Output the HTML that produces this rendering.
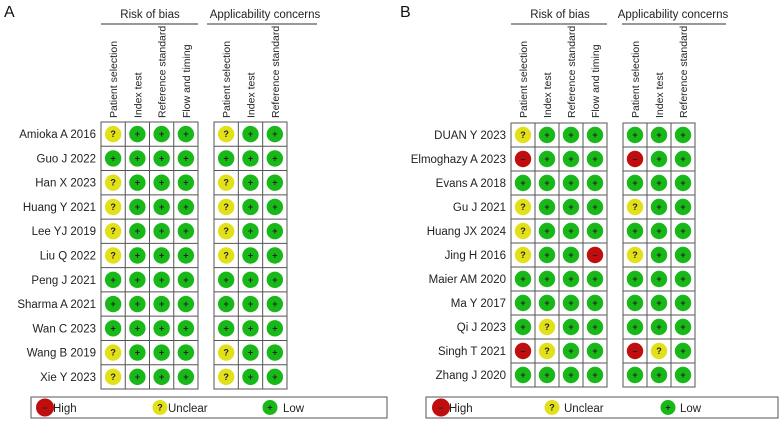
<!DOCTYPE html>
<html><head><meta charset="utf-8"><style>
body{margin:0;background:#fff;}
svg{display:block;font-family:"Liberation Sans",Arial,sans-serif;}
</style></head><body>
<svg id="chart" width="782" height="429" viewBox="0 0 782 429" xmlns="http://www.w3.org/2000/svg"></svg>
<script>
const domainsRisk = ["Patient selection","Index test","Reference standard","Flow and timing"];
const domainsApp = ["Patient selection","Index test","Reference standard"];
const studiesA = ["Amioka A 2016","Guo J 2022","Han X 2023","Huang Y 2021","Lee YJ 2019","Liu Q 2022","Peng J 2021","Sharma A 2021","Wan C 2023","Wang B 2019","Xie Y 2023"];
const riskA = [["U","L","L","L"],["L","L","L","L"],["U","L","L","L"],["U","L","L","L"],["U","L","L","L"],["U","L","L","L"],["L","L","L","L"],["L","L","L","L"],["L","L","L","L"],["U","L","L","L"],["U","L","L","L"]];
const appA = [["U","L","L"],["L","L","L"],["U","L","L"],["U","L","L"],["U","L","L"],["U","L","L"],["L","L","L"],["L","L","L"],["L","L","L"],["U","L","L"],["U","L","L"]];
const studiesB = ["DUAN Y 2023","Elmoghazy A 2023","Evans A 2018","Gu J 2021","Huang JX 2024","Jing H 2016","Maier AM 2020","Ma Y 2017","Qi J 2023","Singh T 2021","Zhang J 2020"];
const riskB = [["U","L","L","L"],["H","L","L","L"],["L","L","L","L"],["U","L","L","L"],["U","L","L","L"],["U","L","L","H"],["L","L","L","L"],["L","L","L","L"],["L","U","L","L"],["H","U","L","L"],["L","L","L","L"]];
const appB = [["L","L","L"],["H","L","L"],["L","L","L"],["U","L","L"],["L","L","L"],["U","L","L"],["L","L","L"],["L","L","L"],["L","L","L"],["H","U","L"],["L","L","L"]];

const NS="http://www.w3.org/2000/svg";
const svg=document.getElementById('chart');
function el(tag,attrs,parent){const e=document.createElementNS(NS,tag);for(const k in attrs)e.setAttribute(k,attrs[k]);(parent||svg).appendChild(e);return e;}
const COL={H:"#c00d0d",U:"#e2e018",L:"#18b818"};
const SYM={H:"\u2013",U:"?",L:"+"};
function mark(g,cx,cy,v,r){
  const c=el('circle',{cx:cx,cy:cy,r:r,fill:COL[v]},g);
  
  
  const t=el('text',{x:cx,y:cy+3,'text-anchor':'middle','font-size':9,'font-weight':'bold',fill:'#222'},g);
  t.textContent=SYM[v];
}
function panel(p){
  const g=el('g',{});
  
  
  const lt=el('text',{x:p.lx,y:17,'font-size':16,fill:'#111'},g);lt.textContent=p.label;
  const rowH=(p.bottom-p.top)/p.studies.length;
  const blocks=[{x0:p.x1,x1:p.x1e,dom:domainsRisk,vals:p.risk,title:"Risk of bias",lineA:p.x1,lineB:p.x1e,tc:p.t1},
                {x0:p.x2,x1:p.x2e,dom:domainsApp,vals:p.app,title:"Applicability concerns",lineA:p.l2a,lineB:p.l2b,tc:p.t2}];
  blocks.forEach((b,bi)=>{
    const tt=el('text',{x:b.tc,y:18,'text-anchor':'middle','font-size':11.5,fill:'#222'},g);tt.textContent=b.title;
    el('line',{x1:b.lineA,x2:b.lineB,y1:24,y2:24,stroke:'#777','stroke-width':1.5},g);
    const cw=(b.x1-b.x0)/b.dom.length;
    b.dom.forEach((d,i)=>{
      const x=b.x0+cw*(i+0.5)+4;
      const t=el('text',{x:x,y:118,'font-size':10.5,fill:'#222',transform:`rotate(-90 ${x} 118)`},g);t.textContent=d;
    });
    el('rect',{x:b.x0,y:p.top,width:b.x1-b.x0,height:p.bottom-p.top,fill:'none',stroke:'#555','stroke-width':1},g);
    for(let i=1;i<b.dom.length;i++)el('line',{x1:b.x0+cw*i,x2:b.x0+cw*i,y1:p.top,y2:p.bottom,stroke:'#555','stroke-width':1},g);
    for(let r=1;r<p.studies.length;r++)el('line',{x1:b.x0,x2:b.x1,y1:p.top+rowH*r,y2:p.top+rowH*r,stroke:'#555','stroke-width':1},g);
    b.vals.forEach((row,r)=>row.forEach((v,c)=>mark(g,b.x0+cw*(c+0.5),p.top+rowH*(r+0.5),v,8.2)));
  });
  p.studies.forEach((s,r)=>{
    const t=el('text',{x:p.x1-5,y:p.top+rowH*(r+0.5)+4,'text-anchor':'end','font-size':11.5,fill:'#222'},g);t.textContent=s;
  });
  const lg=el('g',{},g);
  
  
  el('rect',{x:p.legX,y:397,width:p.legW,height:21,fill:'none',stroke:'#555','stroke-width':1},lg);
  [['H','High'],['U','Unclear'],['L','Low']].forEach((e,i)=>{
    const cx=p.legC[i];
    mark(lg,cx,407.5,e[0],e[0]==='H'?9:7.5);
    const t=el('text',{x:p.legT[i],y:412,'font-size':11.5,fill:'#222'},lg);t.textContent=e[1];
  });
}
panel({label:"A",lx:4,studies:studiesA,risk:riskA,app:appA,top:122,bottom:389,x1:101,x1e:198,x2:214,x2e:287,l2a:207,l2b:317,t1:150,t2:265,legX:31,legW:356,legC:[45,160,270],legT:[53,168,283]});
panel({label:"B",lx:400,studies:studiesB,risk:riskB,app:appB,top:123,bottom:387,x1:511,x1e:607,x2:623,x2e:695,l2a:622,l2b:726,t1:560,t2:673,legX:426,legW:352,legC:[441,552,668],legT:[449,564,680]});
</script>
</body></html>
